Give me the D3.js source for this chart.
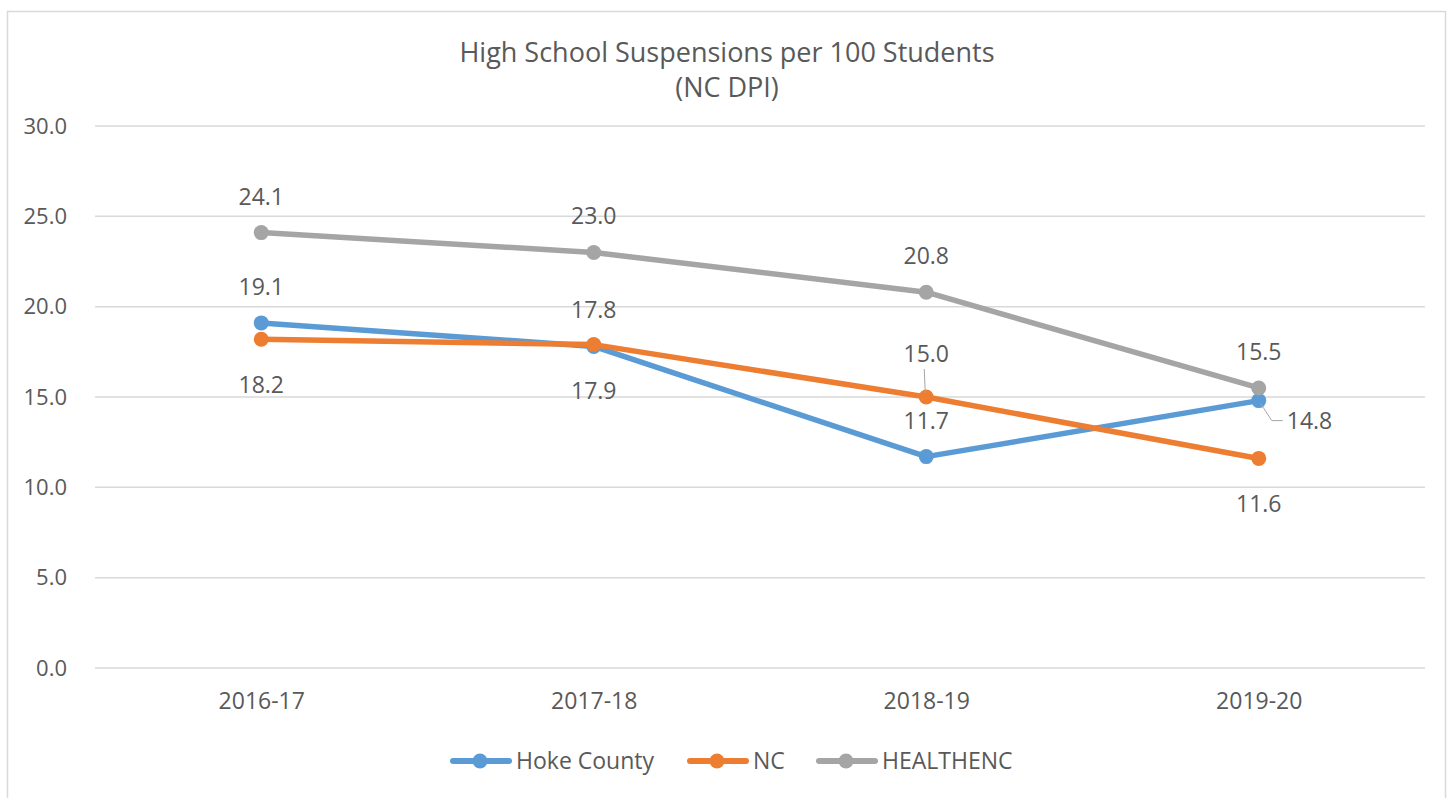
<!DOCTYPE html>
<html>
<head>
<meta charset="utf-8">
<script src="https://cdn.jsdelivr.net/npm/d3@7"></script>
<style>
  body { margin: 0; background: #fff; }
  text { font-family: "Open Sans", "Noto Sans", sans-serif; fill: #595959; }
</style>
</head>
<body>
<div id="container"></div>
<script>
/* chart data */
var years = ["2016-17", "2017-18", "2018-19", "2019-20"];
var hoke = [19.1, 17.8, 11.7, 14.8];
var nc = [18.2, 17.9, 15.0, 11.6];
var healthenc = [24.1, 23.0, 20.8, 15.5];
var yTicks = [0, 5, 10, 15, 20, 25, 30];

// label placement per point: "above", "below", or leader lines
var series = [
  { name: "Hoke County", color: "#5b9bd5", values: hoke,
    labels: ["above", "above", "above", "leaderRight"] },
  { name: "NC", color: "#ed7d31", values: nc,
    labels: ["below", "below", "leaderUp", "below"] },
  { name: "HEALTHENC", color: "#a5a5a5", values: healthenc,
    labels: ["above", "above", "above", "above"] }
];

/* dimensions */
var W = 1450, H = 798;
var margin = { top: 126, left: 95, right: 25, bottom: 130 };

var svg = d3.select("#container").append("svg")
  .attr("width", W).attr("height", H);

// outer chart border
svg.append("rect")
  .attr("x", 7.5).attr("y", 11.5)
  .attr("width", 1438).attr("height", 800)
  .attr("fill", "none").attr("stroke", "#d9d9d9").attr("stroke-width", 1.5);

var x = d3.scalePoint()
  .domain(years)
  .range([margin.left, W - margin.right])
  .padding(0.5);

var y = d3.scaleLinear()
  .domain([0, 30])
  .range([668, 126]);

// title
svg.append("text").attr("x", 727).attr("y", 62)
  .attr("text-anchor", "middle").style("font-size", "27px")
  .text("High School Suspensions per 100 Students");
svg.append("text").attr("x", 727).attr("y", 97)
  .attr("text-anchor", "middle").style("font-size", "27px")
  .text("(NC DPI)");

// gridlines
svg.append("g").selectAll("line")
  .data(yTicks)
  .enter().append("line")
    .attr("x1", margin.left).attr("x2", W - margin.right)
    .attr("y1", function(d) { return y(d) }).attr("y2", function(d) { return y(d) })
    .attr("stroke", "#d9d9d9").attr("stroke-width", 1.5);

// y axis labels
var yAxis = d3.axisLeft(y).tickValues(yTicks).tickFormat(d3.format(".1f")).tickSize(0).tickPadding(28);
svg.append("g")
  .attr("transform", "translate(" + margin.left + ",0)")
  .call(yAxis)
  .call(function(g) { g.select(".domain").remove() })
  .selectAll("text")
    .style("font-size", "22px").attr("fill", "#595959")
    .attr("font-family", "Open Sans, Noto Sans, sans-serif");

// x axis labels
var xAxis = d3.axisBottom(x).tickSize(0).tickPadding(25);
svg.append("g")
  .attr("transform", "translate(0," + y(0) + ")")
  .call(xAxis)
  .call(function(g) { g.select(".domain").remove() })
  .selectAll("text")
    .style("font-size", "23px").attr("fill", "#595959")
    .attr("font-family", "Open Sans, Noto Sans, sans-serif");

var line = d3.line()
  .x(function(d, i) { return x(years[i]) })
  .y(function(d) { return y(d) });

var plot = svg.append("g");

series.forEach(function(s) {
  plot.append("path")
    .datum(s.values)
    .attr("d", line)
    .attr("fill", "none")
    .attr("stroke", s.color)
    .attr("stroke-width", 5.5)
    .attr("stroke-linejoin", "round");
  plot.selectAll(null)
    .data(s.values)
    .enter().append("circle")
      .attr("cx", function(d, i) { return x(years[i]) })
      .attr("cy", function(d) { return y(d) })
      .attr("r", 7.5)
      .attr("fill", s.color);
});

// data labels
var labels = svg.append("g");
series.forEach(function(s) {
  s.values.forEach(function(v, i) {
    var px = x(years[i]), py = y(v);
    var pos = s.labels[i];
    var t = labels.append("text").style("font-size", "23px").text(v.toFixed(1));
    if (pos === "above") {
      t.attr("x", px).attr("y", py - 28).attr("text-anchor", "middle");
    } else if (pos === "below") {
      t.attr("x", px).attr("y", py + 54).attr("text-anchor", "middle");
    } else if (pos === "leaderUp") {
      t.attr("x", px).attr("y", py - 35).attr("text-anchor", "middle");
      labels.append("line")
        .attr("x1", px - 2).attr("y1", py - 28)
        .attr("x2", px - 1).attr("y2", py - 4)
        .attr("stroke", "#a5a5a5").attr("stroke-width", 1);
    } else if (pos === "leaderRight") {
      t.attr("x", px + 28).attr("y", py + 28).attr("text-anchor", "start");
      labels.append("polyline")
        .attr("points", [[px + 2, py + 3], [px + 13, py + 20], [px + 24, py + 20]].join(" "))
        .attr("fill", "none").attr("stroke", "#a5a5a5").attr("stroke-width", 1);
    }
  });
});

// legend
var legendX = [450, 687, 816];
var legend = svg.append("g");
series.forEach(function(s, i) {
  var lg = legend.append("g").attr("transform", "translate(" + legendX[i] + ",761)");
  lg.append("line").attr("x1", 3).attr("x2", 59)
    .attr("stroke", s.color).attr("stroke-width", 6).attr("stroke-linecap", "round");
  lg.append("circle").attr("cx", 30).attr("r", 7.5).attr("fill", s.color);
  lg.append("text").attr("x", 66).attr("y", 8).style("font-size", "23px").text(s.name);
});
</script>
</body>
</html>
